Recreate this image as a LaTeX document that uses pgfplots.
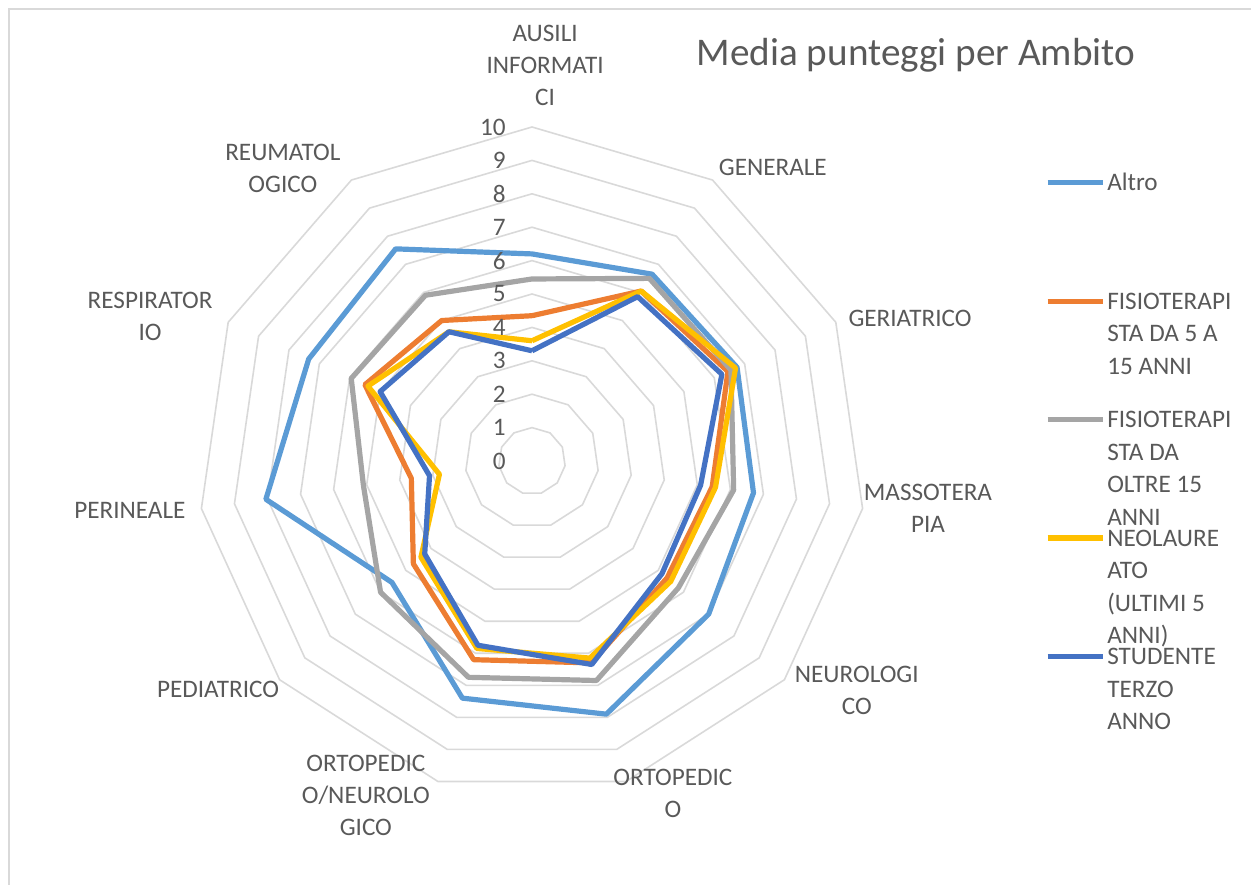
\documentclass[border=0pt]{standalone}
\usepackage{pgfplots}
\usepackage{pgfplotstable}
\pgfplotsset{compat=1.18}
\usepgfplotslibrary{polar}
\usepackage{fontspec}
\setmainfont{Carlito}
\definecolor{cAltro}{HTML}{5B9BD5}
\definecolor{cOra}{HTML}{ED7D31}
\definecolor{cGri}{HTML}{A5A5A5}
\definecolor{cGia}{HTML}{FFC000}
\definecolor{cBlu}{HTML}{4472C4}
\definecolor{cGrid}{HTML}{D9D9D9}
\definecolor{cTxt}{HTML}{595959}

% angle: 90 - k*360/11 ; columns = series
\pgfplotstableread{
ang      altro  ora   gri   gia   blu
90.000   6.20   4.35  5.45  3.60  3.30
57.273   6.65   6.05  6.50  6.05  5.85
24.545   6.75   6.45  6.55  6.70  6.25
351.818  6.70   5.45  6.10  5.55  5.10
319.091  7.00   5.35  5.80  5.50  5.15
286.364  7.90   6.30  6.85  6.15  6.35
253.636  7.40   6.20  6.75  5.85  5.75
220.909  5.55   4.70  6.00  4.40  4.25
188.182  8.05   3.65  5.10  2.80  3.10
155.455  7.35   5.50  5.95  5.40  5.00
122.727  7.55   5.00  5.90  4.60  4.60
90.000   6.20   4.35  5.45  3.60  3.30
}\data

\newcommand{\lfont}{\fontsize{12.6}{16}\selectfont}
\tikzset{lab/.style={align=center, font=\lfont, text=cTxt, inner sep=0pt}}

\begin{document}
\begin{tikzpicture}
\begin{polaraxis}[
  width=334pt, height=334pt, scale only axis,
  xmin=0, xmax=360, ymin=0, ymax=10,
  hide axis, clip=false,
  legend cell align=left,
  legend style={at={(1.2675,0.935)}, anchor=north west, draw=none, fill=none,
    inner sep=0pt, row sep=0pt, font=\fontsize{12.6}{16.3}\selectfont\color{cTxt},
    cells={anchor=base west}, nodes={inner sep=1pt, text height=9pt, text depth=48.2pt}},
  legend image code/.code={\draw[#1] (0pt,4pt) -- (27.5pt,4pt);},
]
\pgfplotsinvokeforeach{1,...,10}{
  \addplot[cGrid, line width=0.8pt, forget plot] coordinates {
    (90,#1) (57.273,#1) (24.545,#1) (351.818,#1) (319.091,#1) (286.364,#1)
    (253.636,#1) (220.909,#1) (188.182,#1) (155.455,#1) (122.727,#1) (90,#1)};
}
\addplot[cAltro, line width=2.6pt, line join=round] table[x=ang,y=altro] {\data};
\addlegendentry{\parbox[t]{75pt}{\raggedright Altro}}
\addplot[cOra, line width=2.6pt, line join=round] table[x=ang,y=ora] {\data};
\addlegendentry{\parbox[t]{75pt}{\raggedright FISIOTERAPI\\STA DA 5 A\\15 ANNI}}
\addplot[cGri, line width=2.6pt, line join=round] table[x=ang,y=gri] {\data};
\addlegendentry{\parbox[t]{75pt}{\raggedright FISIOTERAPI\\STA DA\\OLTRE 15\\ANNI}}
\addplot[cGia, line width=2.6pt, line join=round] table[x=ang,y=gia] {\data};
\addlegendentry{\parbox[t]{75pt}{\raggedright NEOLAURE\\ATO\\(ULTIMI 5\\ANNI)}}
\addplot[cBlu, line width=2.6pt, line join=round] table[x=ang,y=blu] {\data};
\addlegendentry{\parbox[t]{75pt}{\raggedright STUDENTE\\TERZO\\ANNO}}

\pgfplotsinvokeforeach{0,...,10}{
  \node[anchor=east, inner sep=0pt, xshift=-13pt, font=\lfont, text=cTxt] at (axis cs:90,#1) {#1};
}
\node[lab] at (axis cs:88.1,11.86) {AUSILI\\INFORMATI\\CI};
\node[lab] at (axis cs:50.6,11.36) {GENERALE};
\node[lab] at (axis cs:20.7,12.10) {GERIATRICO};
\node[lab] at (axis cs:353.23,11.94) {MASSOTERA\\PIA};
\node[lab] at (axis cs:324.8,11.9) {NEUROLOGI\\CO};
\node[lab] at (axis cs:293.0,10.8) {ORTOPEDIC\\O};
\node[lab] at (axis cs:243.6,11.19) {ORTOPEDIC\\O/NEUROLO\\GICO};
\node[lab] at (axis cs:216.0,11.62) {PEDIATRICO};
\node[lab] at (axis cs:186.95,12.13) {PERINEALE};
\node[lab] at (axis cs:159.2,12.23) {RESPIRATOR\\IO};
\node[lab] at (axis cs:130.4,11.51) {REUMATOL\\OGICO};
\coordinate (C) at (axis cs:0,0);
\end{polaraxis}
\node[font=\fontsize{19.6}{23}\selectfont, text=cTxt] at ([shift={(192pt,203pt)}]C) {Media punteggi per Ambito};
\draw[cGrid, line width=0.9pt] ([shift={(-261.5pt,-240pt)}]C) -- ([shift={(-261.5pt,226pt)}]C) -- ([shift={(370pt,226pt)}]C);
\pgfresetboundingbox
\path[use as bounding box] ([shift={(-266pt,-211.5pt)}]C) rectangle ([shift={(359.5pt,230.5pt)}]C);
\end{tikzpicture}
\end{document}
